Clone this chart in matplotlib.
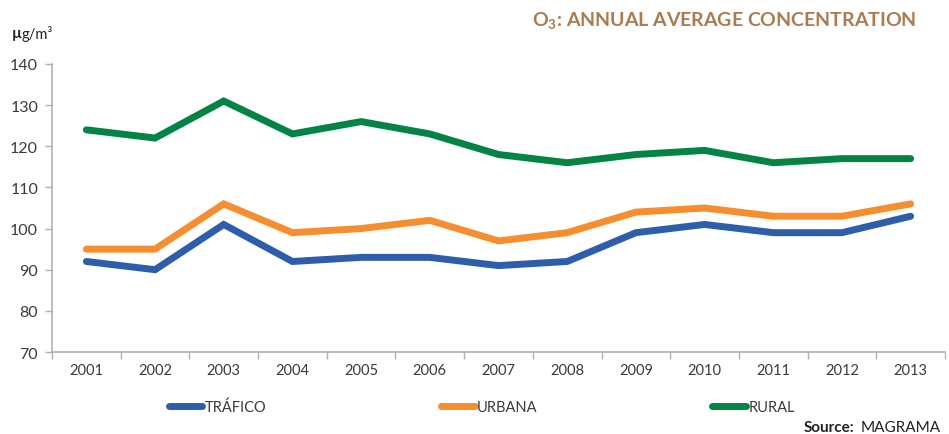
import matplotlib
matplotlib.use('Agg')
import matplotlib.pyplot as plt
import numpy as np

plt.rcParams['font.family'] = ['Lato', 'DejaVu Sans']
plt.rcParams['mathtext.fontset'] = 'custom'
plt.rcParams['mathtext.rm'] = 'Lato'
plt.rcParams['mathtext.bf'] = 'Lato:bold'

years = ['2001', '2002', '2003', '2004', '2005', '2006', '2007',
         '2008', '2009', '2010', '2011', '2012', '2013']
trafico = [92, 90, 101, 92, 93, 93, 91, 92, 99, 101, 99, 99, 103]
urbana = [95, 95, 106, 99, 100, 102, 97, 99, 104, 105, 103, 103, 106]
rural = [124, 122, 131, 123, 126, 123, 118, 116, 118, 119, 116, 117, 117]

labels = ['TRÁFICO', 'URBANA', 'RURAL']
colors = ['#2E5DAB', '#F68D2E', '#048444']

fig = plt.figure(figsize=(9.49, 4.35), dpi=100)
ax = fig.add_axes([0.0548, 0.1885, 0.9410, 0.6621])

x = np.arange(len(years))
for vals, lab, c in zip([trafico, urbana, rural], labels, colors):
    ax.plot(x, vals, color=c, lw=5, label=lab, solid_capstyle='round', solid_joinstyle='miter')

ax.set_xlim(-0.5, len(years) - 0.5)
ax.set_ylim(70, 140)
ax.set_yticks(np.arange(70, 141, 10))
ax.set_xticks(x)
ax.set_xticklabels(years)
ax.set_xticks(np.arange(-0.5, len(years), 1), minor=True)

for s in ['top', 'right']:
    ax.spines[s].set_visible(False)
for s in ['left', 'bottom']:
    ax.spines[s].set_color('#b0b0b0')
    ax.spines[s].set_linewidth(1.2)

ax.tick_params(axis='y', length=5, width=1, color='#b0b0b0', labelsize=11.5, labelcolor='#3a3a3a', pad=5)
ax.tick_params(axis='x', which='major', length=0, labelsize=10.5, labelcolor='#3a3a3a', pad=8)
ax.tick_params(axis='x', which='minor', length=5, width=1, color='#b0b0b0')

leg = ax.legend(loc='upper left', bbox_to_anchor=(0.116, -0.118), ncol=3, frameon=False,
                fontsize=10.5, handlelength=2.3, handletextpad=0.15, columnspacing=12.0,
                labelcolor='#3a3a3a')

# title and unit
fig.text(0.966, 0.952, r'$\mathbf{O_3}$: ANNUAL AVERAGE CONCENTRATION', ha='right', va='center',
         fontsize=14, fontweight='bold', color='#A97B4E')
fig.text(0.012, 0.921, 'µ', ha='left', va='center', fontsize=11, fontweight='bold', color='#222222')
fig.text(0.023, 0.921, 'g/m³', ha='left', va='center', fontsize=10.5, color='#222222')

# source
fig.text(0.991, 0.017, 'MAGRAMA', ha='right', va='center', fontsize=11, color='#222222')
fig.text(0.900, 0.017, 'Source:', ha='right', va='center', fontsize=11, fontweight='bold', color='#222222')

fig.savefig('out.png', dpi=100)
